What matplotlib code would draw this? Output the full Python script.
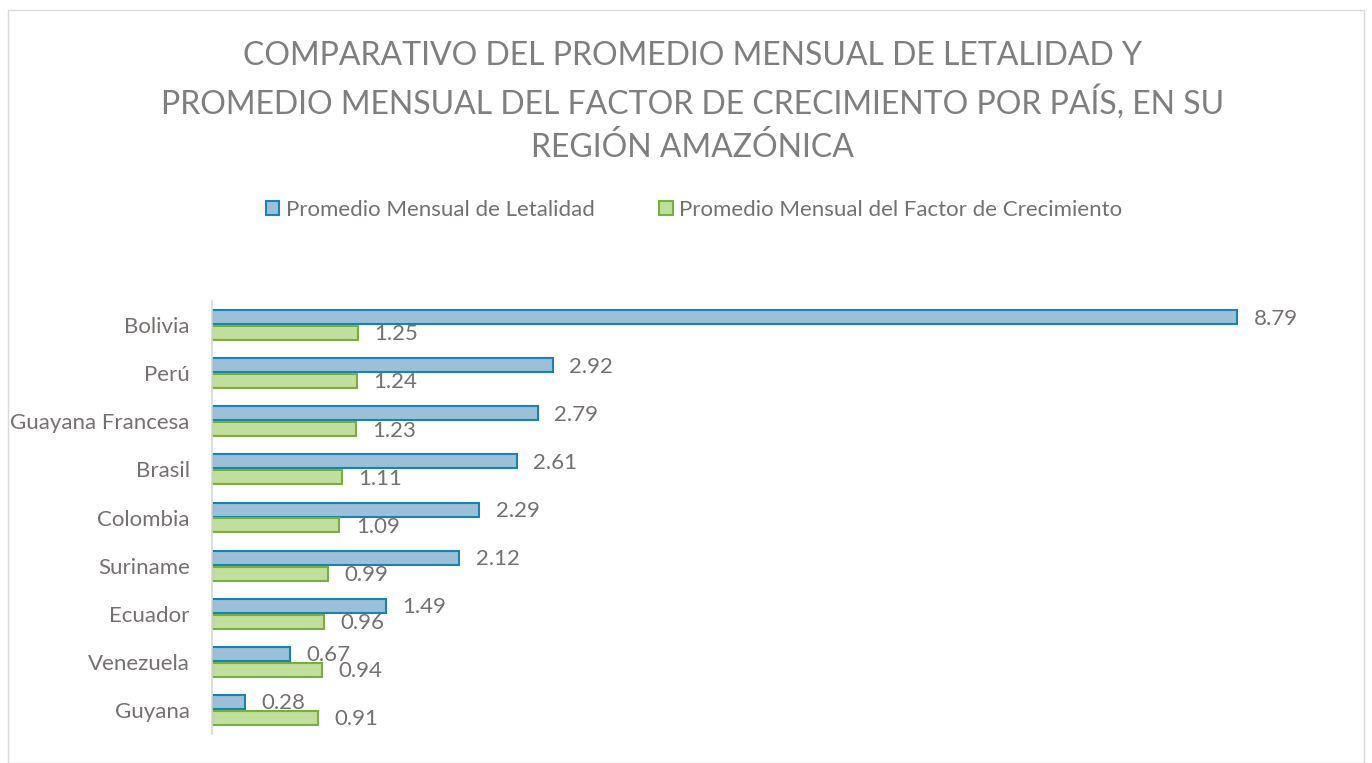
import numpy as np
import matplotlib.pyplot as plt
from matplotlib.patches import Rectangle

plt.rcParams['font.family'] = ['Lato', 'DejaVu Sans']

paises = ["Bolivia", "Perú", "Guayana Francesa", "Brasil", "Colombia",
          "Suriname", "Ecuador", "Venezuela", "Guyana"]
letalidad = [8.79, 2.92, 2.79, 2.61, 2.29, 2.12, 1.49, 0.67, 0.28]
crecimiento = [1.25, 1.24, 1.23, 1.11, 1.09, 0.99, 0.96, 0.94, 0.91]

gris = "#767171"

fig = plt.figure(figsize=(13.72, 7.63), dpi=100)
ax = fig.add_axes([212 / 1372, 1 - 734 / 763, 1050 / 1372, 433 / 763])

y = np.arange(len(paises))
h = 0.29
b1 = ax.barh(y - h / 2 - 0.02, letalidad, height=h, color="#9BC0DA",
             edgecolor="#1A84AE", linewidth=1.5, label="Promedio Mensual de Letalidad")
b2 = ax.barh(y + h / 2 + 0.02, crecimiento, height=h, color="#C0DE9C",
             edgecolor="#77B041", linewidth=1.5,
             label="Promedio Mensual del Factor de Crecimiento")

for bars, vals in ((b1, letalidad), (b2, crecimiento)):
    for bar, v in zip(bars, vals):
        ax.annotate(f"{v:.2f}", (v, bar.get_y() + bar.get_height() / 2),
                    xytext=(12, -1), textcoords="offset points",
                    va="center", ha="left", fontsize=16, color=gris)

ax.set_xlim(0, 9)
ax.set_ylim(len(paises) - 0.5, -0.5)
ax.set_yticks(y)
ax.set_yticklabels(paises, fontsize=16, color=gris)
ax.tick_params(axis="y", length=0, pad=16)
ax.set_xticks([])
for s in ("top", "right", "bottom"):
    ax.spines[s].set_visible(False)
ax.spines["left"].set_color("#D9D9D9")
ax.spines["left"].set_linewidth(1.2)

fig.text(0.505, 1 - 102 / 763,
         "COMPARATIVO DEL PROMEDIO MENSUAL DE LETALIDAD Y\n"
         "PROMEDIO MENSUAL DEL FACTOR DE CRECIMIENTO POR PAÍS, EN SU\n"
         "REGIÓN AMAZÓNICA",
         ha="center", va="center", fontsize=23, color="#7F7F7F", linespacing=1.48)

fig.legend(handles=[b1, b2], loc="center", bbox_to_anchor=(0.506, 1 - 210 / 763),
           ncol=2, frameon=False, fontsize=16, labelcolor=gris,
           handlelength=0.6, handleheight=0.6, handletextpad=0.3, columnspacing=2.9)

fig.patches.append(Rectangle((8 / 1372, 0), 1 - 16 / 1372, 1 - 10 / 763,
                             transform=fig.transFigure, fill=False,
                             edgecolor="#D9D9D9", linewidth=1))

fig.savefig("out.png", dpi=100)
